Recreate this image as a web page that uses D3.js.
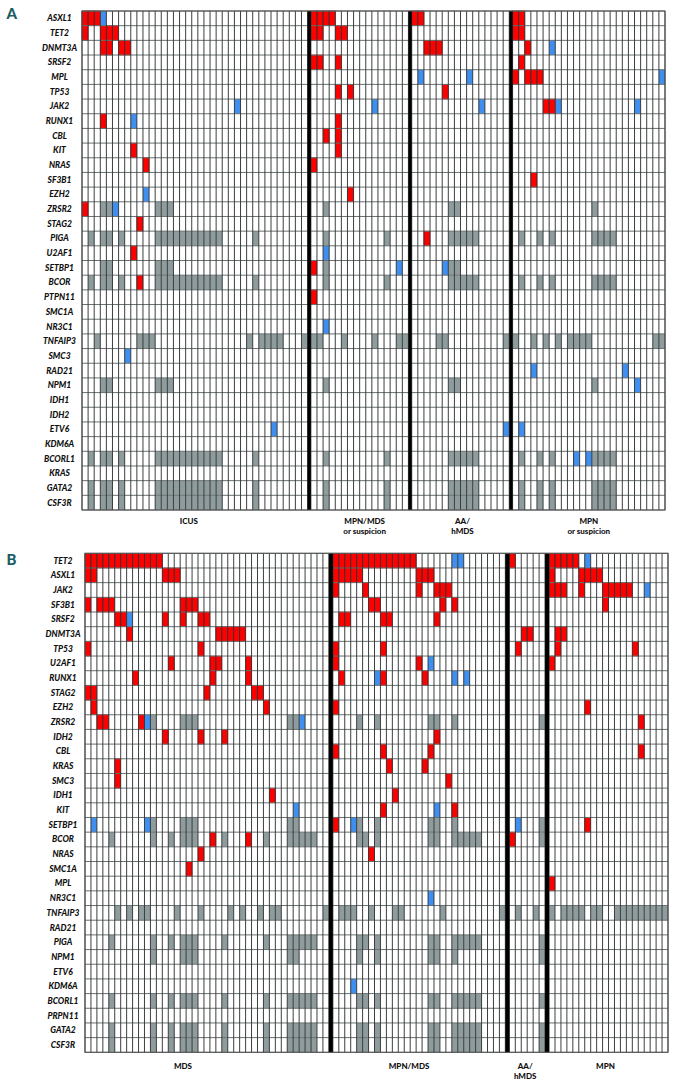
<!DOCTYPE html>
<html><head><meta charset="utf-8">
<script src="https://cdn.jsdelivr.net/npm/d3@7"></script>
<style>body{margin:0;background:#fff}svg{display:block}</style>
</head><body><svg id="c" width="678" height="1084"></svg>
<script>
// ---------------- Panel A data ----------------
const genesA = ["ASXL1","TET2","DNMT3A","SRSF2","MPL","TP53","JAK2","RUNX1","CBL","KIT","NRAS","SF3B1","EZH2","ZRSR2","STAG2","PIGA","U2AF1","SETBP1","BCOR","PTPN11","SMC1A","NR3C1","TNFAIP3","SMC3","RAD21","NPM1","IDH1","IDH2","ETV6","KDM6A","BCORL1","KRAS","GATA2","CSF3R"];
const groupNamesA = [["ICUS"],["MPN/MDS","or suspicion"],["AA/","hMDS"],["MPN","or suspicion"]];
const groupSizesA = [37,16,16,25];
const mutatedA = [
  ["ASXL1",[0,1,2,37,38,39,40,53,54,69,70]],
  ["TET2",[0,3,4,5,37,38,41,42,69,70]],
  ["DNMT3A",[3,4,6,7,55,56,57,71]],
  ["SRSF2",[37,38,41,70]],
  ["MPL",[69,71,72,73]],
  ["TP53",[41,43,58]],
  ["JAK2",[74,75]],
  ["RUNX1",[3,41]],
  ["CBL",[39,41]],
  ["KIT",[8,41]],
  ["NRAS",[10,37]],
  ["SF3B1",[72]],
  ["EZH2",[43]],
  ["ZRSR2",[0]],
  ["STAG2",[9]],
  ["PIGA",[55]],
  ["U2AF1",[8]],
  ["SETBP1",[37]],
  ["BCOR",[9]],
  ["PTPN11",[37]]
];
const vusA = [
  ["ASXL1",[3]],
  ["DNMT3A",[75]],
  ["MPL",[54,62,93]],
  ["JAK2",[25,47,64,76,89]],
  ["RUNX1",[8]],
  ["EZH2",[10]],
  ["ZRSR2",[5]],
  ["U2AF1",[39]],
  ["SETBP1",[51,58]],
  ["NR3C1",[39]],
  ["SMC3",[7]],
  ["RAD21",[72,87]],
  ["NPM1",[89]],
  ["ETV6",[31,68,70]],
  ["BCORL1",[79,81]]
];
const notTestedWideA = [1,3,4,6,12,13,14,15,16,17,18,19,20,21,22,28,39,49,59,60,61,62,63,70,73,75,82,83,84,85];
const notTestedNarrowA = [3,4,12,13,14,39,59,60,82];
const notTestedTnfA = [2,9,10,11,27,29,30,31,32,36,37,38,42,47,51,52,57,58,68,69,72,74,76,78,79,80,81,92,93];
const notTestedA = [
  ["ZRSR2",notTestedNarrowA],
  ["PIGA",notTestedWideA],
  ["SETBP1",[3,4,12,13,14,39,59,60]],
  ["BCOR",notTestedWideA],
  ["TNFAIP3",notTestedTnfA],
  ["NPM1",notTestedNarrowA],
  ["BCORL1",notTestedWideA],
  ["GATA2",notTestedWideA],
  ["CSF3R",notTestedWideA]
];

// ---------------- Panel B data ----------------
const genesB = ["TET2","ASXL1","JAK2","SF3B1","SRSF2","DNMT3A","TP53","U2AF1","RUNX1","STAG2","EZH2","ZRSR2","IDH2","CBL","KRAS","SMC3","IDH1","KIT","SETBP1","BCOR","NRAS","SMC1A","MPL","NR3C1","TNFAIP3","RAD21","PIGA","NPM1","ETV6","KDM6A","BCORL1","PRPN11","GATA2","CSF3R"];
const groupNamesB = [["MDS"],["MPN/MDS"],["AA/","hMDS"],["MPN"]];
const groupSizesB = [41,29,6,20];
const mutatedB = [
  ["TET2",[0,1,2,3,4,5,6,7,8,9,10,11,12,41,42,43,44,45,46,47,48,49,50,51,52,53,54,70,76,77,78,79,80]],
  ["ASXL1",[0,1,13,14,15,41,42,43,44,45,55,56,57,76,81,82,83,84]],
  ["JAK2",[41,46,55,58,59,60,76,77,78,81,85,86,87,88,89]],
  ["SF3B1",[0,2,3,4,16,17,18,47,48,59,61,85]],
  ["SRSF2",[5,6,13,16,19,20,42,43,49,50,58]],
  ["DNMT3A",[7,22,23,24,25,26,72,73,77,78]],
  ["TP53",[0,19,41,49,71,77,90]],
  ["U2AF1",[14,21,22,27,41,55,76]],
  ["RUNX1",[8,21,27,42,49,56]],
  ["STAG2",[0,1,20,28,29]],
  ["EZH2",[1,30,41,82]],
  ["ZRSR2",[2,3,9,91]],
  ["IDH2",[13,19,23,58]],
  ["CBL",[41,49,57,91]],
  ["KRAS",[5,50,56]],
  ["SMC3",[5,60]],
  ["IDH1",[31,51]],
  ["KIT",[49,61]],
  ["SETBP1",[41,82]],
  ["BCOR",[21,27,70]],
  ["NRAS",[19,47]],
  ["SMC1A",[17]],
  ["MPL",[76]]
];
const vusB = [
  ["TET2",[61,62,82]],
  ["JAK2",[92]],
  ["SRSF2",[7]],
  ["U2AF1",[57]],
  ["RUNX1",[48,61,63]],
  ["ZRSR2",[10,36]],
  ["KIT",[35,58]],
  ["SETBP1",[1,10,44,71]],
  ["NR3C1",[57]],
  ["KDM6A",[44]]
];
const notTestedWideB = [4,11,14,16,17,18,23,30,34,35,36,37,38,45,46,48,57,58,61,62,63,64,65,75];
const notTestedNarrowB = [11,16,17,18,34,35,45,48,57,58,61,75];
const notTestedTnfB = [5,7,9,10,15,19,24,26,29,31,32,40,42,43,44,47,51,52,59,69,71,74,76,78,79,80,81,83,84,87,88,89,90,91,92,93,94,95];
const notTestedB = [
  ["ZRSR2",notTestedNarrowB],
  ["SETBP1",notTestedNarrowB],
  ["BCOR",notTestedWideB],
  ["TNFAIP3",notTestedTnfB],
  ["PIGA",notTestedWideB],
  ["NPM1",notTestedNarrowB],
  ["BCORL1",notTestedWideB],
  ["GATA2",notTestedWideB],
  ["CSF3R",notTestedWideB]
];

// ---------------- drawing ----------------
const COL = {mut:"#ff0000", vus:"#3f8ff0", nt:"#8f9c9e"};
const svg = d3.select("#c");

function drawPanel(cfg){
  const g = svg.append("g");
  const N = d3.sum(cfg.groupSizes);
  const colW = (cfg.x1 - cfg.x0 - cfg.sep*(cfg.groupSizes.length-1))/N;
  let start = 0, gx = cfg.x0;
  const groups = cfg.groupSizes.map((n,i)=>{
    const gr = {i, start, end:start+n, gx0:gx, gx1:gx+n*colW};
    gr.scale = d3.scaleBand().domain(d3.range(start,start+n)).range([gr.gx0,gr.gx1]).padding(0);
    start += n; gx = gr.gx1 + cfg.sep; return gr;
  });
  const grpOf = c => groups.find(q=>c>=q.start && c<q.end);
  const xCol = c => grpOf(c).scale(c);
  const y = d3.scaleBand().domain(cfg.genes).range([cfg.y0,cfg.y1]).padding(0);

  const cells = [];
  const add = (list,type)=>list.forEach(([gene,cols])=>cols.forEach(c=>cells.push({gene,c,type})));
  add(cfg.nt,"nt"); add(cfg.mut,"mut"); add(cfg.vus,"vus");

  g.append("rect").attr("x",cfg.x0).attr("y",cfg.y0).attr("width",cfg.x1-cfg.x0).attr("height",cfg.y1-cfg.y0).attr("fill","#fff");
  g.append("g").selectAll("rect").data(cells).join("rect")
    .attr("x",d=>xCol(d.c)).attr("y",d=>y(d.gene))
    .attr("width",colW).attr("height",y.bandwidth())
    .attr("fill",d=>COL[d.type])
    .attr("stroke",d=>d.type==="mut"?"#b00000":"none").attr("stroke-width",0.6);

  const hs = cfg.genes.map(d=>y(d)).concat([cfg.y1]);
  g.append("g").selectAll("line").data(hs).join("line")
    .attr("x1",cfg.x0).attr("x2",cfg.x1).attr("y1",d=>d).attr("y2",d=>d)
    .attr("stroke","#6a7171").attr("stroke-width",1);
  const vs = [];
  groups.forEach(gr=>{ d3.range(gr.start,gr.end).forEach(c=>vs.push(gr.scale(c))); vs.push(gr.gx1); });
  g.append("g").selectAll("line").data(vs).join("line")
    .attr("x1",d=>d).attr("x2",d=>d).attr("y1",cfg.y0).attr("y2",cfg.y1)
    .attr("stroke","#333636").attr("stroke-width",0.95);
  g.append("g").selectAll("rect").data(groups.slice(0,-1)).join("rect")
    .attr("x",d=>d.gx1).attr("width",cfg.sep).attr("y",cfg.y0).attr("height",cfg.y1-cfg.y0)
    .attr("fill","#000");
  g.append("rect").attr("x",cfg.x0).attr("y",cfg.y0).attr("width",cfg.x1-cfg.x0).attr("height",cfg.y1-cfg.y0)
    .attr("fill","none").attr("stroke","#555").attr("stroke-width",1);

  g.append("g").selectAll("text").data(cfg.genes).join("text")
    .attr("x",cfg.labelX).attr("y",d=>y(d)+y.bandwidth()/2)
    .attr("dy","0.35em").attr("text-anchor","middle")
    .attr("font-family","Lato, 'Open Sans', sans-serif").attr("font-weight","900").attr("font-style","italic")
    .attr("font-size",8.5).attr("fill","#111").text(d=>d);

  groups.forEach((gr,i)=>{
    const t = g.append("text").attr("text-anchor","middle")
      .attr("font-family","Lato, 'Open Sans', sans-serif").attr("font-weight","900")
      .attr("font-size",8).attr("fill","#111");
    cfg.groupNames[i].forEach((line,j)=>{
      t.append("tspan").attr("x",(gr.gx0+gr.gx1)/2 + cfg.labelDx[i]).attr("y",cfg.labelY + j*10).text(line);
    });
  });

  g.append("text").attr("x",6.5).attr("y",cfg.letterY)
    .attr("font-family","Lato, 'Open Sans', sans-serif").attr("font-weight","900")
    .attr("font-size",15).attr("fill","#1b5d64").text(cfg.letter);
}

drawPanel({letter:"A", genes:genesA, groupNames:groupNamesA, groupSizes:groupSizesA,
  mut:mutatedA, vus:vusA, nt:notTestedA,
  x0:82, x1:665, y0:11, y1:510, sep:3.3, labelX:59.5, labelDx:[-6,5,2,0], labelY:523.5, letterY:19});
drawPanel({letter:"B", genes:genesB, groupNames:groupNamesB, groupSizes:groupSizesB,
  mut:mutatedB, vus:vusB, nt:notTestedB,
  x0:85, x1:668, y0:553.3, y1:1052.3, sep:4, labelX:63, labelDx:[-24,-10,-2,-3], labelY:1069, letterY:565});
</script>
</body></html>
